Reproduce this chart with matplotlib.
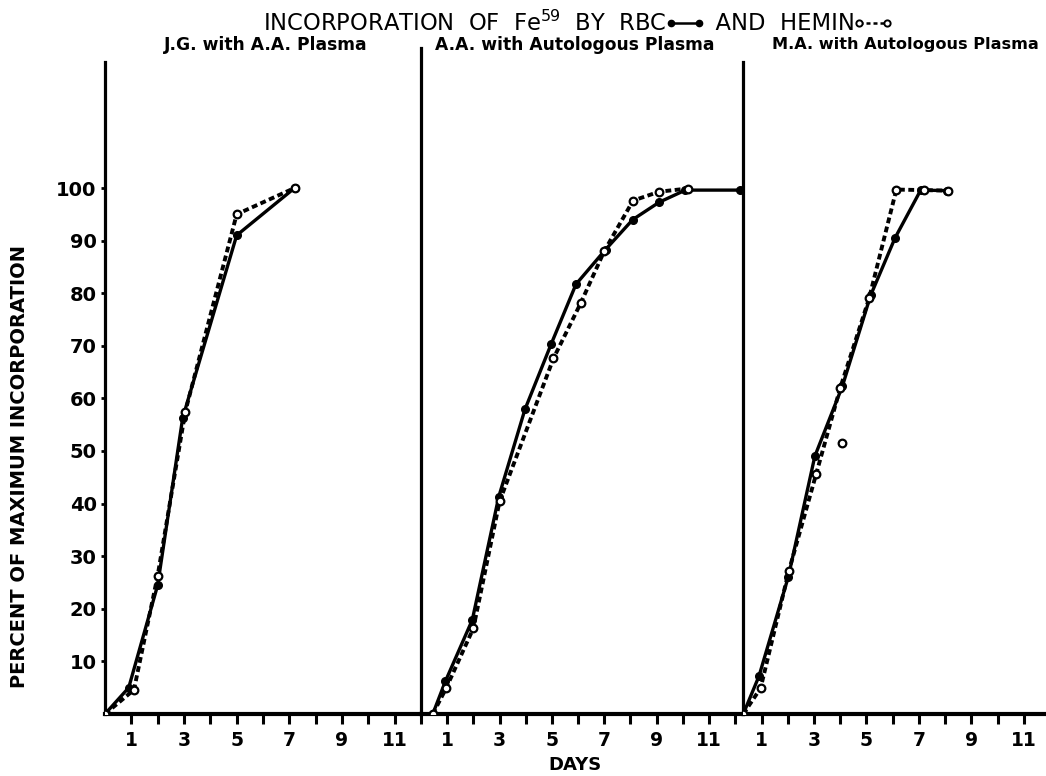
import numpy as np
import matplotlib.pyplot as plt
from matplotlib.lines import Line2D

plt.rcParams['font.family'] = ['DejaVu Sans']
plt.rcParams['mathtext.default'] = 'regular'

# --- data (days, percent of maximum incorporation) ---
panel_titles = ["J.G. with A.A. Plasma",
                "A.A. with Autologous Plasma",
                "M.A. with Autologous Plasma"]

jg_rbc_days = [0, 0.9, 2.0, 2.95, 5.0, 7.2]
jg_rbc_pct = [0, 5.0, 24.5, 56.3, 91.0, 100.0]
jg_hemin_days = [0, 1.1, 2.0, 3.05, 5.0, 7.2]
jg_hemin_pct = [0, 4.6, 26.3, 57.5, 95.0, 100.0]

aa_rbc_days = [0.45, 0.93, 1.96, 2.97, 3.97, 4.97, 5.92, 7.05, 8.09, 9.1, 10.1, 12.2]
aa_rbc_pct = [0, 6.2, 17.9, 41.3, 57.9, 70.3, 81.7, 88.3, 94.0, 97.3, 99.6, 99.6]
aa_hemin_days = [0.45, 0.96, 2.0, 3.0, 5.06, 6.1, 7.0, 8.1, 9.1, 10.2]
aa_hemin_pct = [0, 4.9, 16.3, 40.4, 67.6, 78.1, 88.0, 97.6, 99.3, 99.9]

ma_rbc_days = [0.3, 0.9, 2.02, 3.03, 4.08, 5.16, 6.09, 7.07, 8.08]
ma_rbc_pct = [0, 7.2, 26.1, 49.0, 62.3, 79.6, 90.5, 99.6, 99.5]
ma_hemin_days = [0.3, 0.96, 2.04, 3.08, 4.0, 5.1, 6.14, 7.2, 8.1]
ma_hemin_pct = [0, 4.9, 27.2, 45.6, 62.0, 79.0, 99.7, 99.6, 99.5]
ma_outlier_days = [4.08]
ma_outlier_pct = [51.6]

rbc_days = [jg_rbc_days, aa_rbc_days, ma_rbc_days]
rbc_pct = [jg_rbc_pct, aa_rbc_pct, ma_rbc_pct]
hemin_days = [jg_hemin_days, aa_hemin_days, ma_hemin_days]
hemin_pct = [jg_hemin_pct, aa_hemin_pct, ma_hemin_pct]

y_ticks = [10, 20, 30, 40, 50, 60, 70, 80, 90, 100]
x_ticks = list(range(1, 13))

W, H = 1046, 776
fig = plt.figure(figsize=(W / 100, H / 100), dpi=100)
fig.patch.set_facecolor('white')

# panel edges in pixels and x ranges
edges = [(105, 421), (421, 743), (743, 1046)]
xlims = [(0, 12.0), (0, 12.3), (0.29, 11.85)]
tops = [62, 48, 62]
title_centers = [266, 575, 905]
title_sizes = [12.3, 12.3, 11.6]
bottom_px, top_px = 714, 48
ymax = 100 * (bottom_px - top_px) / (bottom_px - 188)

solid_kw = dict(color='black', lw=2.4, marker='o', ms=5.5, mfc='black', mec='black',
                solid_capstyle='round', zorder=3)
dash_kw = dict(color='black', lw=2.8, ls=(0, (1.5, 0.9)), marker='o', ms=5.5, mfc='white',
               mec='black', mew=1.6, zorder=4)

axes = []
for i, ((l, r), xl) in enumerate(zip(edges, xlims)):
    ax = fig.add_axes([l / W, (H - bottom_px) / H, (r - l) / W, (bottom_px - top_px) / H])
    ax.set_xlim(*xl)
    ax.set_ylim(0, ymax)
    for s in ['top', 'right']:
        ax.spines[s].set_visible(False)
    # vertical panel line, stopping at its own height
    ax.spines['left'].set_bounds(0, 100 * (bottom_px - tops[i]) / (bottom_px - 188))
    ax.spines['left'].set_linewidth(2.3)
    ax.spines['bottom'].set_linewidth(3.0)
    ax.set_xticks([t for t in x_ticks if xl[0] < t <= xl[1] + 0.05])
    ax.set_xticklabels([str(t) if t % 2 == 1 else '' for t in ax.get_xticks().astype(int)],
                       fontsize=13.5, fontweight='bold')
    ax.tick_params(axis='x', direction='out', length=7, width=2.2, pad=5)
    if i == 0:
        ax.set_yticks(y_ticks)
        ax.set_yticklabels([str(v) for v in y_ticks], fontsize=14, fontweight='bold')
        ax.tick_params(axis='y', direction='out', length=3, width=2, pad=3)
    else:
        ax.set_yticks([])

    ax.plot(rbc_days[i], rbc_pct[i], **solid_kw)
    ax.plot(hemin_days[i], hemin_pct[i], **dash_kw)
    fig.text(title_centers[i] / W, 1 - 45 / H, panel_titles[i],
             ha='center', va='center', fontsize=title_sizes[i], fontweight='bold')
    axes.append(ax)

axes[2].plot(ma_outlier_days, ma_outlier_pct, ls='none', marker='o', ms=5.5, mfc='white',
             mec='black', mew=1.6, zorder=4)

# axis labels
fig.text(20 / W, 1 - 467 / H, "PERCENT OF MAXIMUM INCORPORATION", rotation=90,
         ha='center', va='center', fontsize=14, fontweight='bold')
fig.text(575 / W, 1 - 765 / H, "DAYS", ha='center', va='center', fontsize=13, fontweight='bold')

# title built from pieces with small legend glyphs
fig.canvas.draw()
rend = fig.canvas.get_renderer()
title_y = 1 - 23 / H
pieces = ["INCORPORATION  OF  Fe$^{59}$  BY  RBC", "glyph_rbc", "  AND  HEMIN", "glyph_hemin"]
glyph_w = 34
tfont = dict(fontsize=16.3, ha='left', va='center')
widths = []
texts = []
for p in pieces:
    if p.startswith("glyph"):
        widths.append(glyph_w)
        texts.append(None)
    else:
        t = fig.text(0, title_y, p, **tfont)
        widths.append(t.get_window_extent(rend).width)
        texts.append(t)
x = 576 - sum(widths) / 2
for p, w, t in zip(pieces, widths, texts):
    if t is not None:
        t.set_x(x / W)
    else:
        xs = [(x + 4) / W, (x + w - 2) / W]
        if p == "glyph_rbc":
            fig.add_artist(Line2D(xs, [title_y, title_y], color='black', lw=1.8,
                                  marker='o', ms=4.5, mfc='black', transform=fig.transFigure))
        else:
            fig.add_artist(Line2D(xs, [title_y, title_y], color='black', lw=1.8,
                                  ls=(0, (1.6, 1.2)), marker='o', ms=4.5, mfc='white', mew=1.4,
                                  transform=fig.transFigure))
    x += w

fig.savefig('out.png', dpi=100, facecolor='white')
